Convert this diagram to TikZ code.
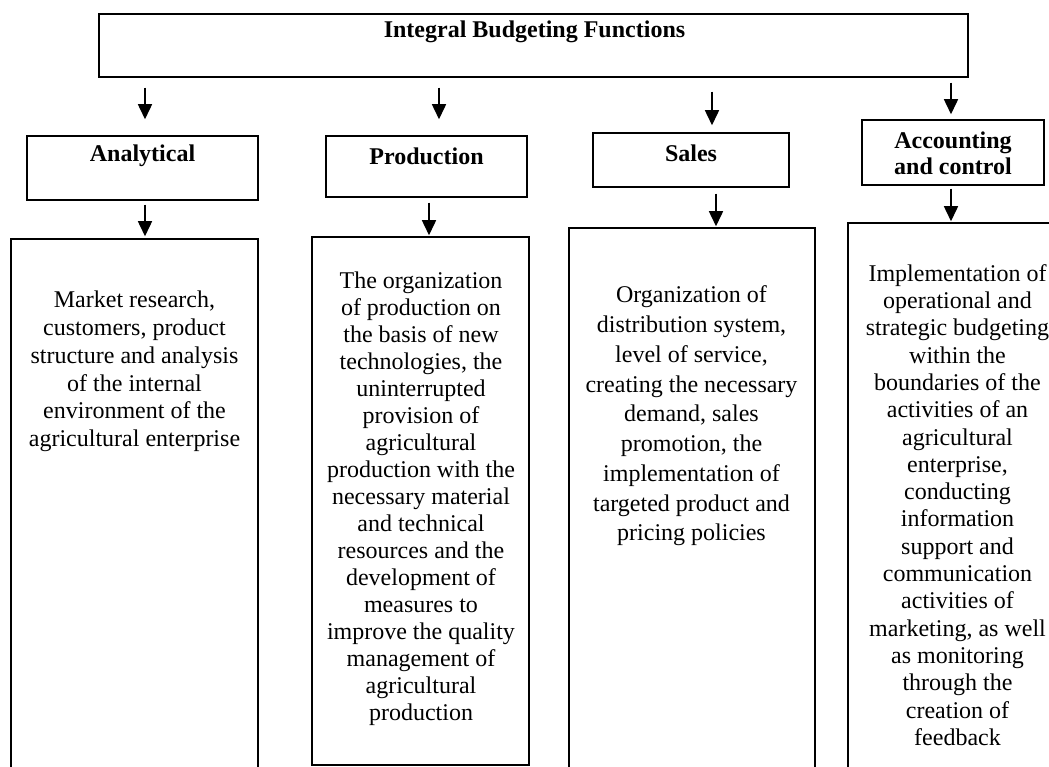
\documentclass[tikz,border=0pt]{standalone}
\usepackage{fontspec}
\setmainfont{Liberation Serif}
\usetikzlibrary{arrows.meta}
\begin{document}
\begin{tikzpicture}[x=1pt,y=-1pt,
  box/.style={draw=black, line width=1.5pt, rectangle, inner sep=0pt},
  arr/.style={line width=1.5pt, -{Triangle[length=15pt,width=14pt]}},
  lbl/.style={font=\fontsize{24}{26}\selectfont\bfseries, align=center, inner sep=0pt},
  bodytxt/.style={align=center, inner sep=0pt}]
\fill[white] (0,0) rectangle (1049,767);
\clip (0,0) rectangle (1049,767);
% top box
\node[box, minimum width=869pt, minimum height=63pt] (top) at (533.5,45.5) {};
\node[lbl] (topT) at (534.5,32) {Integral Budgeting Functions};
% second row
\node[box, minimum width=231pt, minimum height=64pt] (an) at (142.5,168) {};
\node[lbl] (anL) at (142.5,156) {Analytical};
\node[box, minimum width=201pt, minimum height=61pt] (pr) at (426.5,166.5) {};
\node[lbl] (prL) at (426.5,156) {Production};
\node[box, minimum width=196pt, minimum height=54pt] (sa) at (691,160) {};
\node[lbl] (saL) at (691,153) {Sales};
\node[box, minimum width=182pt, minimum height=65pt] (ac) at (953,152.5) {};
\node[lbl] (acL) at (953,153.5) {Accounting\\and control};
% big boxes
\node[box, minimum width=247pt, minimum height=561pt] (anB) at (134.5,519.5) {};
\node[box, minimum width=217pt, minimum height=528pt] (prB) at (420.5,501) {};
\node[box, minimum width=246pt, minimum height=572pt] (saB) at (692,514) {};
\node[box, minimum width=242pt, minimum height=577pt] (acB) at (969,511.5) {};
\node[bodytxt, font=\fontsize{24}{27.8}\selectfont] (anT) at (134.5,371.5) {Market research,\\customers, product\\structure and analysis\\of the internal\\environment of the\\agricultural enterprise};
\node[bodytxt, font=\fontsize{24}{27}\selectfont] (prT) at (421,499) {The organization\\of production on\\the basis of new\\technologies, the\\uninterrupted\\provision of\\agricultural\\production with the\\necessary material\\and technical\\resources and the\\development of\\measures to\\improve the quality\\management of\\agricultural\\production};
\node[bodytxt, font=\fontsize{24}{29.75}\selectfont] (saT) at (691.5,416) {Organization of\\distribution system,\\level of service,\\creating the necessary\\demand, sales\\promotion, the\\implementation of\\targeted product and\\pricing policies};
\node[bodytxt, font=\fontsize{24}{27.3}\selectfont] (acT) at (957.5,505) {Implementation of\\operational and\\strategic budgeting\\within the\\boundaries of the\\activities of an\\agricultural\\enterprise,\\conducting\\information\\support and\\communication\\activities of\\marketing, as well\\as monitoring\\through the\\creation of\\feedback};
% arrow columns
\coordinate (c1) at (145,0);
\coordinate (c2) at (439,0);
\coordinate (c3) at (712,0);
\coordinate (c4) at (951,0);
\coordinate (d1) at (145,0);
\coordinate (d2) at (429,0);
\coordinate (d3) at (716,0);
\coordinate (d4) at (951,0);
% arrows from top box
\draw[arr, shorten <=10pt, shorten >=16pt] (top.south -| c1) -- (an.north -| c1);
\draw[arr, shorten <=10pt, shorten >=16pt] (top.south -| c2) -- (pr.north -| c2);
\draw[arr, shorten <=14pt, shorten >=7pt] (top.south -| c3) -- (sa.north -| c3);
\draw[arr, shorten <=5pt, shorten >=5pt] (top.south -| c4) -- (ac.north -| c4);
% arrows to big boxes
\draw[arr, shorten <=4pt, shorten >=2pt] (an.south -| d1) -- (anB.north -| d1);
\draw[arr, shorten <=5pt, shorten >=1pt] (pr.south -| d2) -- (prB.north -| d2);
\draw[arr, shorten <=6pt, shorten >=1pt] (sa.south -| d3) -- (saB.north -| d3);
\draw[arr, shorten <=3pt, shorten >=1pt] (ac.south -| d4) -- (acB.north -| d4);
\end{tikzpicture}
\end{document}
